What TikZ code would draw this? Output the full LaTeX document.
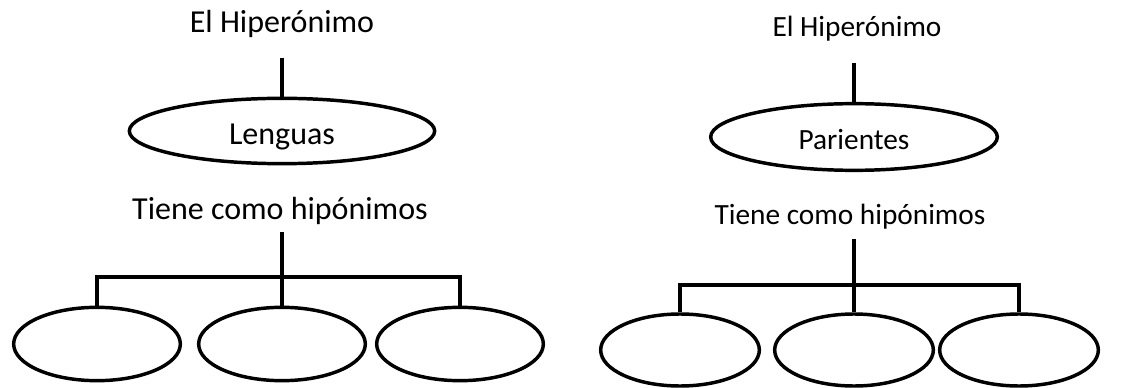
\documentclass[tikz,border=0pt]{standalone}
\usepackage{fontspec}
\setmainfont{Carlito}
\usetikzlibrary{shapes.geometric}

\tikzset{
  link/.style={line width=2.6pt},
  hyperbox/.style={ellipse, draw, line width=2.6pt, inner sep=0pt},
  hypobox/.style={ellipse, draw, line width=2.6pt, inner sep=0pt},
}

\begin{document}
\begin{tikzpicture}[x=0.75pt,y=0.75pt,yscale=-1,xscale=1]
%set diagram size: 1145 x 388
\useasboundingbox (0,0) rectangle (1145,388);

%%% LEFT TREE %%%
% Text Node
\node (hipA) at (282,24) {\fontsize{24}{28}\selectfont El Hiperónimo};
% Ellipse: Lenguas
\node [hyperbox, minimum width=229pt, minimum height=49pt, text height=26pt, text depth=5pt] (lenguas) at (282,131) {\fontsize{24}{28}\selectfont Lenguas};
% Text Node
\node (tieneA) at (280,211) {\fontsize{24}{28}\selectfont Tiene como hipónimos};
% Ellipses: hyponyms
\node [hypobox, minimum width=125pt, minimum height=55pt] (hA1) at (97,344) {};
\node [hypobox, minimum width=125pt, minimum height=55pt] (hA2) at (282,344) {};
\node [hypobox, minimum width=125pt, minimum height=55pt] (hA3) at (460,344) {};
\coordinate (stemA) at (282,58);
\coordinate (topA) at (282,232);
\coordinate (barA) at (282,277);

%Straight Lines
\draw [link] (stemA) -- (lenguas.north);
\draw [link] (topA) -- (barA) -- (hA2.north);
\draw [link] (hA1.north) |- (barA) -| (hA3.north);

%%% RIGHT TREE %%%
% Text Node
\node (hipB) at (857,29) {\fontsize{22}{26}\selectfont El Hiperónimo};
% Ellipse: Parientes
\node [hyperbox, minimum width=215pt, minimum height=50pt, text height=24pt, text depth=4.5pt] (parientes) at (854,137) {\fontsize{22}{26}\selectfont Parientes};
% Text Node
\node (tieneB) at (850,217) {\fontsize{22}{26}\selectfont Tiene como hipónimos};
% Ellipses: hyponyms
\node [hypobox, minimum width=119pt, minimum height=54pt] (hB1) at (680,350) {};
\node [hypobox, minimum width=119pt, minimum height=54pt] (hB2) at (854,350) {};
\node [hypobox, minimum width=119pt, minimum height=54pt] (hB3) at (1019,350) {};
\coordinate (stemB) at (854,63);
\coordinate (topB) at (854,239);
\coordinate (barB) at (854,285);

%Straight Lines
\draw [link] (stemB) -- (parientes.north);
\draw [link] (topB) -- (barB) -- (hB2.north);
\draw [link] (hB1.north) |- (barB) -| (hB3.north);

\end{tikzpicture}
\end{document}
